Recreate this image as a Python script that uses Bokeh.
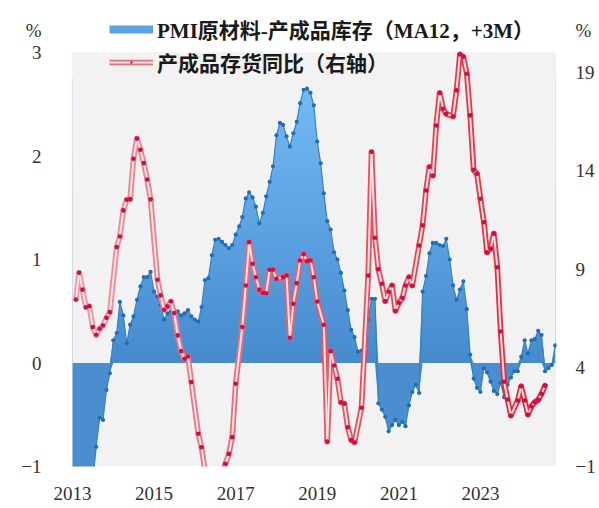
import numpy as np
import pandas as pd
from bokeh.plotting import figure
from bokeh.models import Range1d, LinearAxis, FixedTicker, DatetimeTickFormatter, Legend, LegendItem
from bokeh.embed import file_html
from bokeh.resources import INLINE

# ---- data -----------------------------------------------------------------
first_month = "2013-01-01"

# PMI raw-material inventory minus finished-goods inventory, MA12, led 3 months (%)
pmi_gap = [
    -2.30, -2.10, -1.95, -1.80, -1.60, -1.40, -1.15, -0.81, -0.53, -0.55, -0.26, -0.10,  # 2013
    0.22, 0.29, 0.59, 0.46, 0.19, 0.37, 0.45, 0.61, 0.74, 0.83, 0.83, 0.88,              # 2014
    0.69, 0.64, 0.56, 0.42, 0.48, 0.50, 0.48, 0.50, 0.46, 0.48, 0.51, 0.45,              # 2015
    0.42, 0.40, 0.54, 0.80, 0.82, 1.04, 1.19, 1.20, 1.17, 1.14, 1.11, 1.14,              # 2016
    1.24, 1.32, 1.41, 1.59, 1.65, 1.60, 1.51, 1.35, 1.45, 1.61, 1.75, 1.90,              # 2017
    2.20, 2.32, 2.30, 2.19, 2.09, 2.22, 2.33, 2.51, 2.64, 2.65, 2.61, 2.49,              # 2018
    2.14, 1.93, 1.64, 1.37, 1.29, 1.07, 1.00, 0.87, 0.70, 0.51, 0.32, 0.25,              # 2019
    0.11, 0.12, 0.16, 0.42, 0.62, 0.62, -0.39, -0.45, -0.52, -0.66, -0.60, -0.55,        # 2020
    -0.60, -0.57, -0.61, -0.41, -0.28, -0.21, -0.29, 0.69, 0.84, 1.06, 1.16, 1.16,       # 2021
    1.14, 1.13, 1.20, 1.00, 0.75, 0.61, 0.71, 0.79, 0.52, 0.08, -0.15, -0.24,            # 2022
    -0.28, -0.05, -0.09, -0.18, -0.27, -0.30, -0.19, -0.33, -0.21, -0.14, -0.08, -0.08,  # 2023
    0.06, 0.22, 0.09, 0.22, 0.23, 0.31, 0.27, -0.08, -0.05, -0.02, 0.17,                 # 2024
]

# Finished-goods inventory, year on year (%), right axis; None = no release that month
inv_yoy = [
    None, 7.47, 8.83, 7.97, 7.08, 7.13, 6.07, 5.68, 5.99, 6.15, 6.54, 6.83,              # 2013
    None, 10.13, 10.67, 11.99, 12.53, 12.56, 14.61, 15.63, 15.07, 14.39, 13.56, 12.55,   # 2014
    None, 8.47, 7.68, 6.95, 7.12, 7.37, 6.78, 5.65, 4.85, 4.46, 4.58, 3.28,              # 2015
    None, 0.66, -0.02, -1.20, -1.70, -2.00, -2.10, -1.90, -1.40, -0.86, -0.36, 0.49,     # 2016
    3.20, None, 6.07, 8.18, 10.38, 9.28, 8.60, 7.97, 7.81, 7.79, 8.98, 8.98,             # 2017
    8.52, None, 8.60, 8.69, 5.53, 7.25, 8.30, 9.45, 9.76, 9.42, 9.45, 8.60,              # 2018
    7.37, None, 6.19, 0.27, 4.85, 4.12, 3.45, 2.26, 2.18, 0.99, 0.35, 0.23,              # 2019
    None, 1.98, None, 8.69, 14.95, 10.60, 9.00, 8.27, 7.39, 7.86, 8.18, 6.90,            # 2020
    7.30, 7.55, 8.18, 8.60, 8.18, None, 10.21, 11.23, 13.00, 14.19, 13.76, 16.30,        # 2021
    17.94, 17.15, 16.89, None, 16.76, 18.08, 19.90, 19.77, 18.92, 16.81, 14.05, 13.85,   # 2022
    12.58, 11.39, 9.87, 10.05, 10.81, 9.11, 5.85, 3.30, 2.40, 1.59, None, 2.35,          # 2023
    3.06, 2.35, 1.64, 2.04, 2.26, 2.38, 2.69, 3.10,                                      # 2024
]

year_labels = ["2013", "2015", "2017", "2019", "2021", "2023"]
left_ticks = [-1, 0, 1, 2, 3]
right_ticks = [-1, 4, 9, 14, 19]
unit_label = "%"

label_pmi = "PMI原材料-产成品库存（MA12，+3M）"
label_inv = "产成品存货同比（右轴）"

# ---- derived arrays ---------------------------------------------------------
months = pd.date_range(first_month, periods=len(pmi_gap), freq="MS")
mx = months.values.astype("datetime64[ms]").astype(np.int64).astype(float)
gap = np.array(pmi_gap, dtype=float)

def ms(ts):
    return pd.Timestamp(ts).value / 1e6

x_start = ms("2012-12-23")
x_end = ms("2024-11-12")

# value ranges of the plotting area; the frame reaches up to the canvas top so
# the legend and the unit marks above the grey area stay visible
LEFT_LO, LEFT_HI = -1.0, 3.0
RIGHT_LO, RIGHT_HI = -1.0, 20.0
AREA_PX, HEADROOM_PX = 414.0, 52.0
left_top = LEFT_HI + HEADROOM_PX * (LEFT_HI - LEFT_LO) / AREA_PX
right_top = RIGHT_HI + HEADROOM_PX * (RIGHT_HI - RIGHT_LO) / AREA_PX
left_unit_at = LEFT_HI + 22.0 * (LEFT_HI - LEFT_LO) / AREA_PX
right_unit_at = RIGHT_HI + 22.0 * (RIGHT_HI - RIGHT_LO) / AREA_PX

TICK_FONT = "Liberation Serif"
TEXT_COL = "#333333"
BG = "#f2f2f2"

p = figure(width=599, height=508, x_axis_type="datetime", title=None,
           x_range=Range1d(x_start, x_end), y_range=Range1d(LEFT_LO, left_top),
           output_backend="svg", toolbar_location=None,
           min_border_left=71, min_border_right=43, min_border_top=0, min_border_bottom=42,
           background_fill_color="white", border_fill_color="white", outline_line_color=None)
p.xgrid.visible = False
p.ygrid.visible = False
p.extra_y_ranges = {"right": Range1d(RIGHT_LO, right_top)}

# grey plotting area
p.quad(left=x_start, right=x_end, bottom=LEFT_LO, top=LEFT_HI, fill_color=BG, line_color=None)

# ---- blue area: vertical gradient above zero, masked above the curve --------
grad_n = 256
t = np.linspace(0.0, 1.0, grad_n)
bot = np.array([70, 139, 206])
top = np.array([118, 188, 247])
rgb = (bot[None, :] + (top - bot)[None, :] * t[:, None]).astype(np.uint8)
img = np.zeros((grad_n, 1), dtype=np.uint32)
view = img.view(dtype=np.uint8).reshape((grad_n, 1, 4))
view[:, 0, 0] = rgb[:, 0]
view[:, 0, 1] = rgb[:, 1]
view[:, 0, 2] = rgb[:, 2]
view[:, 0, 3] = 255
p.image_rgba(image=[img], x=mx[0], y=0, dw=mx[-1] - mx[0], dh=2.75)

p.varea(x=mx, y1=np.maximum(gap, 0), y2=LEFT_HI, fill_color=BG)
p.varea(x=mx, y1=np.minimum(gap, 0), y2=0, fill_color="#4a8ecf")
p.line(mx, gap, line_color="#3681c6", line_width=1.2)
p.scatter(mx, gap, size=4.2, fill_color="#1f6eb6", line_color=None)

# ---- red double line: inventory yoy on the right axis ---------------------
ok = [i for i, v in enumerate(inv_yoy) if v is not None]
rx = mx[ok]
ry = np.array([inv_yoy[i] for i in ok], dtype=float)

c0 = np.array([244, 150, 158])
c1 = np.array([240, 34, 52])
frac = np.linspace(0, 1, len(rx) - 1) ** 0.9
seg_cols = ["#%02x%02x%02x" % tuple((c0 + (c1 - c0) * f).astype(int)) for f in frac]

p.segment(x0=rx[:-1], y0=ry[:-1], x1=rx[1:], y1=ry[1:], line_color=seg_cols,
          line_width=5.6, line_cap="round", y_range_name="right")
p.segment(x0=rx[:-1], y0=ry[:-1], x1=rx[1:], y1=ry[1:], line_color="#ffe6e6",
          line_width=2.0, line_cap="round", y_range_name="right")
p.scatter(rx, ry, size=4.6, fill_color="#cc0f4c", line_color=None, y_range_name="right")

# ---- axes -------------------------------------------------------------------
xa = p.xaxis[0]
xa.ticker = FixedTicker(ticks=[ms(y + "-01-01") for y in year_labels])
xa.formatter = DatetimeTickFormatter(years="%Y", months="%Y", days="%Y", hours="%Y")
ya = p.yaxis[0]
ya.ticker = FixedTicker(ticks=left_ticks + [left_unit_at])
ya.major_label_overrides = {left_unit_at: unit_label}
ra = LinearAxis(y_range_name="right", ticker=FixedTicker(ticks=right_ticks + [right_unit_at]))
ra.major_label_overrides = {right_unit_at: unit_label}
p.add_layout(ra, "right")

for ax, standoff in ((xa, 14), (ya, 24), (ra, 13)):
    ax.axis_line_color = None
    ax.major_tick_line_color = None
    ax.minor_tick_line_color = None
    ax.major_label_text_font = TICK_FONT
    ax.major_label_text_font_size = "19px"
    ax.major_label_text_color = TEXT_COL
    ax.major_label_standoff = standoff

# ---- legend -------------------------------------------------------------------
far = [x_start - 1e12]
leg_band = p.line(x=far, y=[0], line_color="#5aa2e4", line_width=8, line_cap="butt")
leg_outer = p.line(x=far, y=[0], line_color="#f06a78", line_width=5.6, y_range_name="right")
leg_inner = p.line(x=far, y=[0], line_color="#ffe6e6", line_width=2.0, y_range_name="right")
leg_dot = p.scatter(x=far, y=[0], marker="dot", size=16, line_color="#cc0f4c",
                    fill_color="#cc0f4c", line_width=1.5, y_range_name="right")

legend = Legend(items=[LegendItem(label=label_pmi, renderers=[leg_band]),
                       LegendItem(label=label_inv, renderers=[leg_outer, leg_inner, leg_dot])],
                location=(38, 389), orientation="vertical",
                background_fill_alpha=0, border_line_alpha=0,
                glyph_width=44, glyph_height=24, label_standoff=4, spacing=3,
                padding=0, margin=0,
                label_text_font="'Liberation Serif', 'Noto Sans CJK SC'",
                label_text_font_size="21px", label_text_font_style="bold",
                label_text_color="#1a1a1a")
p.add_layout(legend)

open("out.html", "w").write(file_html(p, INLINE))
